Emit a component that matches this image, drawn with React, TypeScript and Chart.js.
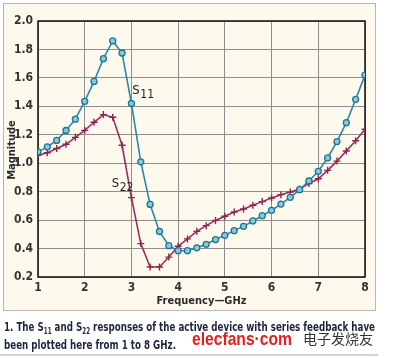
import React, { useEffect, useRef } from "react";
import { Chart, registerables } from "chart.js";

Chart.register(...registerables);

const frequencies = [1.0, 1.2, 1.4, 1.6, 1.8, 2.0, 2.2, 2.4, 2.6, 2.8, 3.0, 3.2, 3.4, 3.6, 3.8, 4.0, 4.2, 4.4, 4.6, 4.8, 5.0, 5.2, 5.4, 5.6, 5.8, 6.0, 6.2, 6.4, 6.6, 6.8, 7.0, 7.2, 7.4, 7.6, 7.8, 8.0];
const s11Values = [1.08, 1.115, 1.16, 1.23, 1.31, 1.435, 1.575, 1.735, 1.86, 1.775, 1.42, 1.01, 0.71, 0.52, 0.42, 0.385, 0.385, 0.405, 0.43, 0.463, 0.493, 0.526, 0.556, 0.594, 0.631, 0.669, 0.713, 0.76, 0.814, 0.875, 0.943, 1.037, 1.152, 1.285, 1.449, 1.62];
const s22Values = [1.056, 1.074, 1.103, 1.133, 1.182, 1.231, 1.288, 1.342, 1.323, 1.126, 0.758, 0.435, 0.27, 0.27, 0.34, 0.416, 0.468, 0.521, 0.561, 0.598, 0.627, 0.657, 0.678, 0.704, 0.73, 0.755, 0.779, 0.797, 0.819, 0.857, 0.891, 0.95, 1.015, 1.086, 1.158, 1.239];
const xTicks = [1, 2, 3, 4, 5, 6, 7, 8];
const yTicks = [0.2, 0.4, 0.6, 0.8, 1.0, 1.2, 1.4, 1.6, 1.8, 2.0];
const xTitle = "Frequency\u2014GHz";
const yTitle = "Magnitude";
const captionLine1 = ["1. The S", "11", " and S", "22", " responses of the active device with series feedback have"];
const captionLine2 = "been plotted here from 1 to 8 GHz.";
const watermarkLatin = "elecfans\u00b7com";
const watermarkCJK = "\u7535\u5b50\u53d1\u70e7\u53cb";

const FONT = '"DejaVu Sans Condensed", "Liberation Sans Narrow", "Noto Sans", sans-serif';
const S11_COLOR = "#2a88a8";
const S22_COLOR = "#a02c5a";

function subLabel(ctx: CanvasRenderingContext2D, x: number, y: number, main: string, sub: string, color: string) {
  ctx.save();
  ctx.fillStyle = color;
  ctx.textBaseline = "alphabetic";
  ctx.textAlign = "left";
  ctx.font = `13px ${FONT}`;
  ctx.fillText(main, x, y);
  const w = ctx.measureText(main).width;
  ctx.font = `12px ${FONT}`;
  ctx.fillText(sub, x + w + 0.5, y + 4);
  ctx.restore();
}

const decorPlugin = {
  id: "decor",
  beforeDraw(chart: any) {
    const ctx = chart.ctx as CanvasRenderingContext2D;
    ctx.save();
    ctx.fillStyle = "#ffffff";
    ctx.fillRect(0, 0, chart.width, chart.height);
    ctx.fillStyle = "#fdf9ec";
    ctx.fillRect(3, 3, 372, 307);
    ctx.strokeStyle = "#b8b8ac";
    ctx.lineWidth = 1;
    ctx.strokeRect(3.5, 3.5, 372, 307);
    ctx.fillStyle = "#cfd8cf";
    ctx.fillRect(0, 354, 378, 2);
    ctx.restore();
  },
  beforeDatasetsDraw(chart: any) {
    const ctx = chart.ctx as CanvasRenderingContext2D;
    const a = chart.chartArea;
    ctx.save();
    ctx.strokeStyle = "#111111";
    ctx.lineWidth = 1.5;
    ctx.strokeRect(a.left, a.top, a.right - a.left, a.bottom - a.top);
    ctx.restore();
  },
  afterDraw(chart: any) {
    const ctx = chart.ctx as CanvasRenderingContext2D;
    const a = chart.chartArea;
    ctx.save();
    ctx.fillStyle = "#2a2a2a";
    ctx.font = `bold 11px ${FONT}`;
    ctx.textAlign = "center";
    ctx.textBaseline = "middle";
    ctx.fillText(xTitle, (a.left + a.right) / 2, 301);
    ctx.save();
    ctx.translate(12, 150);
    ctx.rotate(-Math.PI / 2);
    ctx.fillText(yTitle, 0, 0);
    ctx.restore();
    const xs = chart.scales.x;
    const ys = chart.scales.y;
    subLabel(ctx, xs.getPixelForValue(3.02), ys.getPixelForValue(1.49), "S", "11", "#222222");
    subLabel(ctx, xs.getPixelForValue(2.58), ys.getPixelForValue(0.83), "S", "22", "#222222");
    ctx.fillStyle = "#1c2540";
    ctx.textAlign = "left";
    ctx.textBaseline = "alphabetic";
    const x = 4;
    const total = 371;
    const main = `bold 12.5px ${FONT}`;
    const small = `bold 8px ${FONT}`;
    let natural = 0;
    captionLine1.forEach((seg, i) => {
      ctx.font = i % 2 === 1 ? small : main;
      natural += ctx.measureText(seg).width;
    });
    const scale = Math.min(1, total / natural);
    ctx.save();
    ctx.translate(x, 331);
    ctx.scale(scale, 1);
    let cx = 0;
    captionLine1.forEach((seg, i) => {
      ctx.font = i % 2 === 1 ? small : main;
      ctx.fillText(seg, cx, i % 2 === 1 ? 3 : 0);
      cx += ctx.measureText(seg).width;
    });
    ctx.restore();
    ctx.save();
    ctx.translate(x, 349);
    ctx.scale(scale, 1);
    ctx.font = main;
    ctx.fillText(captionLine2, 0, 0);
    ctx.restore();
    ctx.fillStyle = "#e3211c";
    ctx.font = `bold 19px "Liberation Sans", "DejaVu Sans", sans-serif`;
    ctx.fillText(watermarkLatin, 192, 345, 100);
    ctx.fillStyle = "#333333";
    ctx.font = `14px "Noto Sans CJK SC", sans-serif`;
    ctx.fillText(watermarkCJK, 303, 344, 72);
    ctx.restore();
  },
};

export default function App() {
  const ref = useRef<HTMLCanvasElement | null>(null);
  useEffect(() => {
    if (!ref.current) return;
    const chart = new Chart(ref.current, {
      type: "line",
      data: {
        datasets: [
          {
            label: "S11",
            data: frequencies.map((f, i) => ({ x: f, y: s11Values[i] })),
            borderColor: S11_COLOR,
            backgroundColor: "#8cc7da",
            borderWidth: 1.6,
            pointStyle: "circle",
            pointRadius: 3,
            pointBorderWidth: 1.3,
            pointBorderColor: "#1f7595",
            tension: 0,
          },
          {
            label: "S22",
            data: frequencies.map((f, i) => ({ x: f, y: s22Values[i] })),
            borderColor: S22_COLOR,
            backgroundColor: S22_COLOR,
            borderWidth: 1.6,
            pointStyle: "cross",
            pointRadius: 3.5,
            pointBorderWidth: 1.4,
            pointBorderColor: "#8e2450",
            tension: 0,
          },
        ],
      },
      options: {
        animation: false,
        responsive: false,
        devicePixelRatio: 1,
        layout: { padding: { left: 0, right: 29, top: 21, bottom: 0 } },
        plugins: { legend: { display: false }, tooltip: { enabled: false } },
        scales: {
          x: {
            type: "linear",
            min: 1,
            max: 8,
            afterBuildTicks: (s: any) => { s.ticks = xTicks.map((v) => ({ value: v })); },
            afterFit: (s: any) => { s.height = 81; },
            grid: { color: "#8e8e8e", lineWidth: 1, drawTicks: false },
            border: { display: false },
            ticks: { color: "#333333", font: { family: FONT, size: 12, weight: "bold" }, padding: 4, maxRotation: 0 },
          },
          y: {
            type: "linear",
            min: 0.2,
            max: 2.0,
            afterBuildTicks: (s: any) => { s.ticks = yTicks.map((v) => ({ value: v })); },
            afterFit: (s: any) => { s.width = 38; },
            grid: { color: "#8e8e8e", lineWidth: 1, drawTicks: false },
            border: { display: false },
            ticks: { color: "#333333", font: { family: FONT, size: 12, weight: "bold" }, padding: 5, callback: (v: any) => Number(v).toFixed(1) },
          },
        },
      },
      plugins: [decorPlugin],
    });
    return () => chart.destroy();
  }, []);
  return (
    <div style={{ position: "fixed", left: 0, top: 0, width: 394, height: 358, background: "#ffffff" }}>
      <canvas ref={ref} width={394} height={358} style={{ display: "block", width: 394, height: 358 }} />
    </div>
  );
}
